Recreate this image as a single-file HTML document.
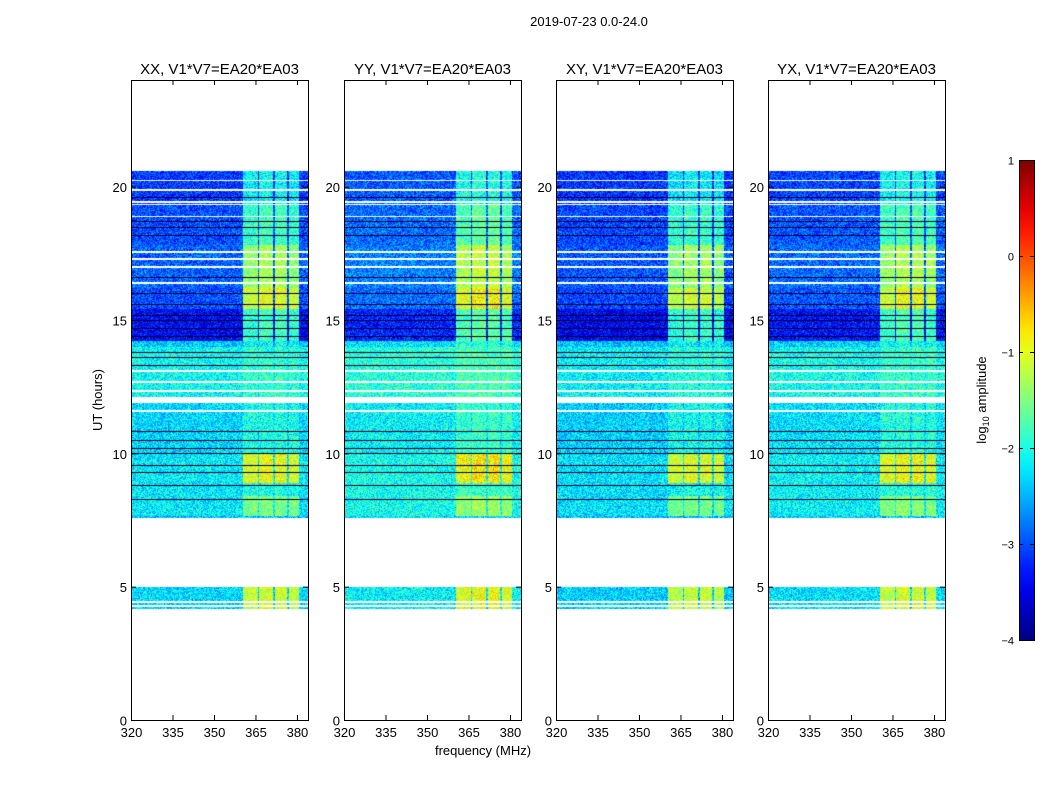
<!DOCTYPE html>
<html><head><meta charset="utf-8">
<style>
body{margin:0;background:#fff;width:1050px;height:800px;overflow:hidden;font-family:"Liberation Sans","DejaVu Sans",sans-serif;}
#wrap{position:relative;width:1050px;height:800px;}
canvas{position:absolute;}
svg{position:absolute;left:0;top:0;}
</style></head>
<body>
<div id="wrap">
<svg id="svg" width="1050" height="800"></svg>
</div>
<script>
// ---- data ----
const panelNames = ["XX, V1*V7=EA20*EA03","YY, V1*V7=EA20*EA03","XY, V1*V7=EA20*EA03","YX, V1*V7=EA20*EA03"];
const panelOffset = [0, 0.15, -0.05, 0.05];
const blockStart = [4.15,7.5,7.65,8.4,8.9,10.0,12.1,14.0,14.2,15.4,16.2,17.8,19.3];
const blockEnd   = [5.0,7.65,8.4,8.9,10.0,11.9,14.0,14.2,15.4,16.2,17.8,19.3,20.6];
const blockBase  = [-2.3,-2.4,-2.2,-2.2,-2.2,-2.3,-2.1,-2.4,-3.4,-3.0,-2.9,-3.0,-3.1];
const blockBoost = [1.2,0,0.7,0.2,1.25,0.3,0.2,0.3,1.6,2.0,1.6,1.2,1.0];
const chanLo = [360.5,366.3,372.0,377.0];
const chanHi = [365.8,371.4,376.3,380.6];
const whiteLines = [4.3,4.45,7.55,11.6,12.35,12.7,13.1,16.4,17.0,17.3,17.55,18.9,19.35,19.45,19.9,20.25];
const blackLines = [8.3,8.8,9.3,9.55,10.0,10.2,10.5,10.85,13.3,13.6,13.8,14.4,14.7,15.0,15.2,15.6,16.0,16.6,17.6,18.2,18.5,18.7,19.6];
const xTicks = [320,335,350,365,380];
const yTicks = [0,5,10,15,20];
const cbTicks = [1,0,-1,-2,-3,-4];

// ---- geometry ----
const panelX = [131,344,556,768], PW=177, PT=80, PH=640;
const fx = f => (f-320)*2.766;
const hy = h => PH - h/24*PH;
const vmin=-4, vmax=1;
function jet(v){
  let t=Math.max(0,Math.min(1,(v-vmin)/(vmax-vmin)));
  const c=x=>Math.max(0,Math.min(1,x));
  return [c(1.5-Math.abs(4*t-3)),c(1.5-Math.abs(4*t-2)),c(1.5-Math.abs(4*t-1))].map(x=>Math.round(x*255));
}
function hash(a,b){let h=(a*374761393+b*668265263)|0;h=(h^(h>>>13))*1274126177|0;return ((h^(h>>>16))>>>0)/4294967295;}

const wrap=document.getElementById('wrap');
const svg=document.getElementById('svg');
const NS="http://www.w3.org/2000/svg";
function el(tag,attrs,parent){const e=document.createElementNS(NS,tag);for(const k in attrs)e.setAttribute(k,attrs[k]);(parent||svg).appendChild(e);return e;}

panelX.forEach((px,p)=>{
  const cv=document.createElement('canvas');
  cv.width=PW;cv.height=PH;cv.style.left=px+'px';cv.style.top=PT+'px';
  
  
  wrap.insertBefore(cv,svg);
  const ctx=cv.getContext('2d');const img=ctx.createImageData(PW,PH);
  for(let r=0;r<PH;r++){
    const h=24-(r+0.5)/PH*24;
    let b=-1;for(let i=0;i<blockStart.length;i++){if(h>=blockStart[i]&&h<blockEnd[i]){b=i;break;}}
    let white=b<0, black=false;
    for(const w of whiteLines) if(Math.abs(hy(w)-r)<1) white=true;
    for(const w of blackLines) if(Math.abs(hy(w)-r)<0.6) black=true;
    for(let c=0;c<PW;c++){
      const k=(r*PW+c)*4;
      if(white){img.data[k]=img.data[k+1]=img.data[k+2]=255;img.data[k+3]=255;continue;}
      if(black){img.data[k]=0;img.data[k+1]=0;img.data[k+2]=40;img.data[k+3]=255;continue;}
      const f=320+(c+0.5)/2.766;
      let v=blockBase[b]+panelOffset[p];
      for(let j=0;j<chanLo.length;j++) if(f>=chanLo[j]&&f<chanHi[j]) v+=blockBoost[b]*(j==1||j==2?1:0.92);
      v+=(hash(c+p*1000,r)-0.5)*1.0;
      const col=jet(v);
      img.data[k]=col[0];img.data[k+1]=col[1];img.data[k+2]=col[2];img.data[k+3]=255;
    }
  }
  ctx.putImageData(img,0,0);
  const g=el('g',{});
  el('rect',{x:px+0.5,y:PT+0.5,width:PW,height:PH,fill:'none',stroke:'#000','stroke-width':1,},g);
  const t=el('text',{x:px+PW/2,y:74,'text-anchor':'middle','font-size':15,},g);t.textContent=panelNames[p];
  xTicks.forEach(v=>{
    const x=px+fx(v)+0.5;
    el('line',{x1:x,x2:x,y1:PT+PH,y2:PT+PH-5,stroke:'#000',},g);
    el('line',{x1:x,x2:x,y1:PT,y2:PT+5,stroke:'#000',},g);
    const tl=el('text',{x:x,y:PT+PH+17,'text-anchor':'middle','font-size':13,},g);tl.textContent=v;
  });
  yTicks.forEach(v=>{
    const y=PT+hy(v)+0.5;
    el('line',{x1:px,x2:px+5,y1:y,y2:y,stroke:'#000',},g);
    el('line',{x1:px+PW,x2:px+PW-5,y1:y,y2:y,stroke:'#000',},g);
    const tl=el('text',{x:px-4,y:y+5,'text-anchor':'end','font-size':13,},g);tl.textContent=v;
  });
});
let t=el('text',{x:589,y:26,'text-anchor':'middle','font-size':13,});t.textContent="2019-07-23 0.0-24.0";
t=el('text',{x:483,y:755,'text-anchor':'middle','font-size':13,});t.textContent="frequency (MHz)";
t=el('text',{x:102,y:400,'text-anchor':'middle','font-size':13,transform:'rotate(-90 102 400)',});t.textContent="UT (hours)";
// colorbar
const defs=el('defs',{});
const lg=el('linearGradient',{id:'jetg',x1:0,y1:1,x2:0,y2:0},defs);
for(let i=0;i<=20;i++){const c=jet(vmin+(vmax-vmin)*i/20);el('stop',{offset:i/20,'stop-color':`rgb(${c})`},lg);}
const cbX=1019,cbY=160,cbW=15,cbH=480;
el('rect',{x:cbX+0.5,y:cbY+0.5,width:cbW,height:cbH,fill:'url(#jetg)',stroke:'#000',});
cbTicks.forEach(v=>{
  const y=cbY+(vmax-v)/(vmax-vmin)*cbH+0.5;
  el('line',{x1:cbX,x2:cbX+4,y1:y,y2:y,stroke:'#000',});
  el('line',{x1:cbX+cbW,x2:cbX+cbW-4,y1:y,y2:y,stroke:'#000',});
  const tl=el('text',{x:cbX-5,y:y+4,'text-anchor':'end','font-size':11,});tl.textContent=String(v).replace('-','\u2212');
});
t=el('text',{x:986,y:400,'text-anchor':'middle','font-size':13,transform:'rotate(-90 986 400)',});
t.innerHTML='log<tspan font-size="9" dy="3">10</tspan><tspan dy="-3"> amplitude</tspan>';
</script>
</body></html>
